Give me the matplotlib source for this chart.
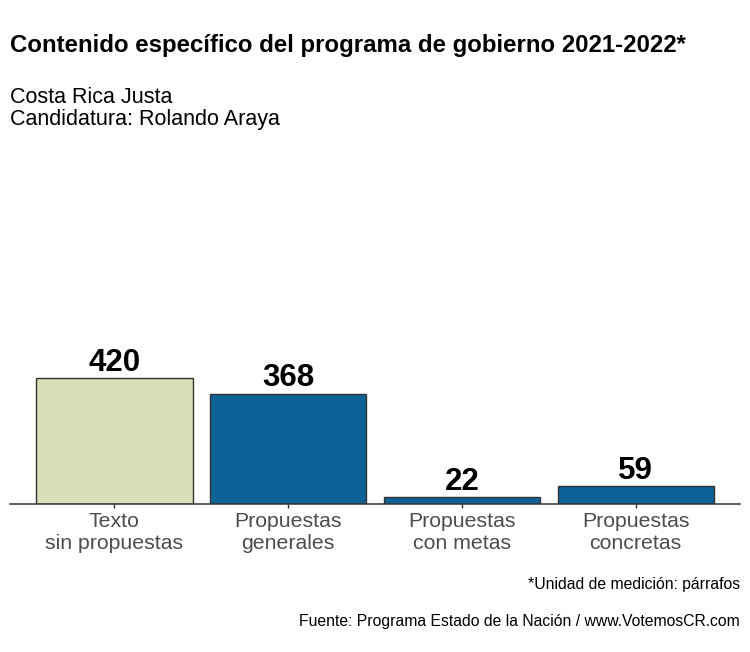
import matplotlib
matplotlib.use('Agg')
import matplotlib.pyplot as plt

plt.rcParams['font.family'] = ['Liberation Sans', 'DejaVu Sans']

categorias = ['Texto\nsin propuestas', 'Propuestas\ngenerales',
              'Propuestas\ncon metas', 'Propuestas\nconcretas']
parrafos = [420, 368, 22, 59]
colores = ['#d6dfb7', '#0e6298', '#0e6298', '#0e6298']


def main():
    fig = plt.figure(figsize=(7.5, 6.52), dpi=100)
    ax = fig.add_axes([10 / 750, 1 - 504 / 652, 730 / 750, 345 / 652])

    x = list(range(1, len(parrafos) + 1))
    ax.bar(x, parrafos, width=0.9, color=colores, edgecolor='#333333',
           linewidth=1.0, zorder=2)
    for xi, v in zip(x, parrafos):
        ax.text(xi, v + 1, str(v), ha='center', va='bottom',
                fontsize=22.5, fontweight='bold', color='black')

    ax.set_xlim(0.4, 4.6)
    ax.set_ylim(0, 1150)
    ax.set_xticks(x)
    ax.set_xticklabels(categorias, fontsize=15.3, color='#4d4d4d',
                       linespacing=1.15)
    ax.set_yticks([])
    for s in ['top', 'right', 'left']:
        ax.spines[s].set_visible(False)
    ax.spines['bottom'].set_color('#333333')
    ax.spines['bottom'].set_linewidth(1.1)
    ax.tick_params(axis='x', length=3, width=1, color='#333333', pad=3)

    fig.text(10 / 750, 1 - 52 / 652,
             'Contenido específico del programa de gobierno 2021-2022*',
             fontsize=17.3, fontweight='bold', ha='left', va='baseline')
    fig.text(10 / 750, 1 - 103 / 652, 'Costa Rica Justa',
             fontsize=15.5, ha='left', va='baseline')
    fig.text(10 / 750, 1 - 125 / 652, 'Candidatura: Rolando Araya',
             fontsize=15.5, ha='left', va='baseline')
    fig.text(740 / 750, 1 - 589 / 652, '*Unidad de medición: párrafos',
             fontsize=11.3, ha='right', va='baseline')
    fig.text(740 / 750, 1 - 626 / 652,
             'Fuente: Programa Estado de la Nación / www.VotemosCR.com',
             fontsize=11.3, ha='right', va='baseline')

    fig.savefig('out.png', dpi=100, facecolor='white')


if __name__ == "__main__":
    main()
